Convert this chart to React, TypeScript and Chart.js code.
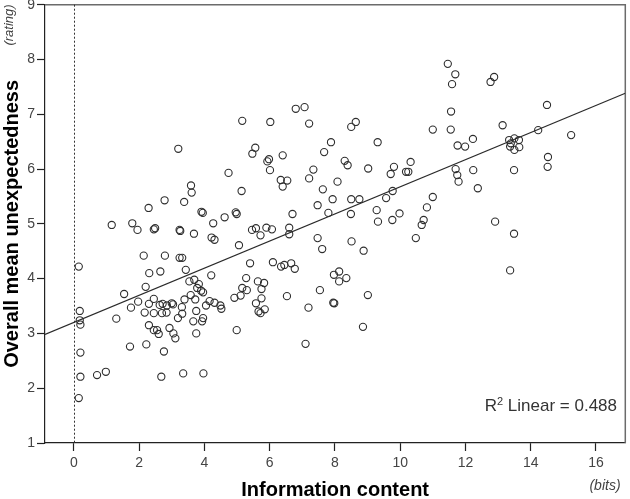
import React, { useEffect, useRef } from "react";
import { Chart, registerables } from "chart.js";

Chart.register(...registerables);

// Information content (bits) of each item
const INFO_BITS = [
  0.15, 0.18, 0.18, 0.2, 0.2, 0.2, 0.15,
  0.71, 0.98, 1.72, 2.22, 2.3, 2.45, 2.55, 2.6, 2.76, 2.68, 2.93, 3.05, 3.11, 3.35, 3.66, 3.75, 3.93, 3.97, 4.99,
  4.74, 3.59, 3.61, 5.14, 2.78, 3.38, 2.29, 3.91, 3.95, 4.96, 4.99, 1.16, 1.79, 1.95, 2.45, 2.49, 3.24, 3.26, 3.68,
  4.27, 4.62, 4.22, 4.31, 5.46, 5.58, 5.06, 2.14, 2.79, 3.24, 3.32, 2.31, 2.65, 3.43, 4.21, 5.4, 2.2, 3.54, 3.69,
  3.83, 3.78, 3.9, 3.96, 1.54, 1.97, 1.75, 2.45, 2.3, 2.63, 2.72, 2.85, 3.0, 3.04, 3.31, 3.39, 3.58, 3.72, 4.05,
  4.16, 4.31, 4.49, 4.52, 4.92, 5.11, 5.16, 5.3, 5.28, 5.58, 5.64, 5.66, 2.17, 2.45, 2.7, 2.84, 3.19, 3.32, 3.75,
  3.96, 1.3,
  3.2, 5.16, 5.56, 5.47,
  6.8, 7.07, 6.02, 7.21, 8.5, 8.64, 11.0, 7.88, 9.31, 6.4, 7.67, 5.93, 5.98, 6.01, 7.34, 7.21, 8.3, 8.39, 9.02,
  9.81, 9.71, 10.32, 10.18, 10.25, 6.34, 6.54, 6.4, 8.08, 7.63, 7.93, 8.5, 8.75, 9.57, 9.77, 11.0, 10.82, 7.47,
  6.7, 7.8, 8.49, 9.28, 9.32, 9.98, 9.76, 10.72, 10.66, 5.9, 6.07, 5.72, 6.6, 6.6,
  7.47, 8.51, 7.61, 8.88, 10.48, 6.1, 6.35, 6.45, 6.66, 6.77, 7.97, 8.13, 8.13, 8.35, 5.83, 5.75, 7.54, 6.53,
  5.75, 5.85, 5.72, 7.19, 7.95, 7.98, 9.01, 8.86, 7.1,
  11.46, 11.69, 11.59, 12.88, 12.77, 11.56, 14.5, 11.55, 13.14, 14.23, 15.24, 11.76, 11.99, 12.23, 13.34, 13.39,
  13.37, 13.5, 13.64, 13.65, 13.5, 14.53, 14.52, 11.7, 11.75, 11.79, 12.24, 13.49, 12.38,
  12.91, 13.49, 13.37,
];

// Overall mean unexpectedness (rating) of each item
const RATING = [
  4.22, 3.41, 3.24, 3.16, 2.65, 2.21, 1.82,
  2.24, 2.3, 2.76, 2.8, 3.15, 3.06, 3.06, 2.99, 2.67, 2.21, 3.1, 3.0, 2.91, 2.27, 3.22, 3.0, 3.22, 2.27, 3.06,
  5.93, 5.7, 5.57, 5.6, 5.43, 5.4, 5.29, 5.22, 5.2, 5.21, 5.18, 4.98, 5.01, 4.89, 4.9, 4.92, 4.89, 4.87, 4.82,
  5.01, 5.12, 4.75, 4.71, 4.89, 4.92, 4.61, 4.42, 4.42, 4.38, 4.38, 4.1, 4.13, 4.16, 4.06, 4.28, 3.85, 3.95, 3.98,
  3.9, 3.83, 3.78, 3.75, 3.72, 3.58, 3.47, 3.63, 3.54, 3.52, 3.54, 3.51, 3.55, 3.53, 3.48, 3.62, 3.7, 3.62, 3.51,
  3.59, 3.56, 3.51, 3.45, 3.65, 3.69, 3.83, 3.79, 4.01, 3.55, 3.95, 3.4, 3.38, 3.37, 3.37, 3.38, 3.28, 3.36, 3.41,
  3.28, 3.27,
  6.37, 6.88, 6.39, 6.28,
  7.1, 7.13, 6.86, 6.83, 6.77, 6.86, 6.72, 6.49, 6.49, 6.25, 6.31, 6.14, 6.18, 5.98, 5.99, 5.83, 6.15, 6.07, 6.01,
  6.04, 5.91, 6.13, 5.95, 5.95, 5.8, 5.79, 5.68, 5.77, 5.63, 5.45, 5.45, 5.45, 5.47, 5.6, 5.49, 5.3, 5.34,
  5.18, 5.2, 5.18, 5.25, 5.04, 5.19, 5.07, 5.07, 4.98, 4.93, 4.9, 4.79, 4.93, 4.81,
  4.74, 4.68, 4.54, 4.51, 4.74, 4.3, 4.22, 4.25, 4.28, 4.18, 4.07, 4.13, 3.95, 4.01, 3.92, 3.81, 3.79, 3.68,
  3.64, 3.44, 3.37, 3.47, 3.56, 3.55, 3.7, 3.12, 2.81,
  7.92, 7.73, 7.55, 7.68, 7.59, 7.05, 7.17, 6.72, 6.8, 6.71, 6.62, 6.43, 6.41, 6.55, 6.53, 6.47,
  6.41, 6.56, 6.53, 6.4, 6.35, 6.22, 6.04, 6.0, 5.89, 5.77, 5.98, 5.98, 5.65,
  5.04, 4.82, 4.15,
];

const X_TICKS = [0, 2, 4, 6, 8, 10, 12, 14, 16];
const Y_TICKS = [1, 2, 3, 4, 5, 6, 7, 8, 9];
const X_MIN = -0.885;
const X_MAX = 16.9;
const Y_MIN = 1;
const Y_MAX = 9;

const FIT_INTERCEPT = 3.2;
const FIT_SLOPE = 0.2475;
const R2_VALUE = "0.488";

const X_TITLE = "Information content";
const X_UNIT = "(bits)";
const Y_TITLE = "Overall mean unexpectedness";
const Y_UNIT = "(rating)";

const FONT = '"Liberation Sans", Arial, Helvetica, sans-serif';

const overlayPlugin = {
  id: "overlay",
  beforeDatasetsDraw(chart: any) {
    const { ctx, chartArea: a, scales } = chart;
    const xs = scales.x;
    const ys = scales.y;
    ctx.save();
    // frame top & right
    ctx.strokeStyle = "#6b6b6b";
    ctx.lineWidth = 1.5;
    ctx.beginPath();
    ctx.moveTo(a.left, a.top);
    ctx.lineTo(a.right, a.top);
    ctx.lineTo(a.right, a.bottom);
    ctx.stroke();

    // dotted reference line at x = 0
    const x0 = Math.round(xs.getPixelForValue(0)) + 0.5;
    ctx.strokeStyle = "#333";
    ctx.lineWidth = 1;
    ctx.setLineDash([2, 2]);
    ctx.beginPath();
    ctx.moveTo(x0, a.top);
    ctx.lineTo(x0, a.bottom);
    ctx.stroke();
    ctx.setLineDash([]);

    // linear fit
    ctx.beginPath();
    ctx.rect(a.left, a.top, a.right - a.left, a.bottom - a.top);
    ctx.clip();
    ctx.strokeStyle = "#2a2a2a";
    ctx.lineWidth = 1.2;
    ctx.beginPath();
    ctx.moveTo(xs.getPixelForValue(X_MIN), ys.getPixelForValue(FIT_INTERCEPT + FIT_SLOPE * X_MIN));
    ctx.lineTo(xs.getPixelForValue(X_MAX), ys.getPixelForValue(FIT_INTERCEPT + FIT_SLOPE * X_MAX));
    ctx.stroke();
    ctx.restore();
  },
  afterDraw(chart: any) {
    const { ctx, chartArea: a } = chart;
    ctx.save();
    // y title
    ctx.fillStyle = "#000";
    ctx.font = `bold 20px ${FONT}`;
    ctx.textAlign = "center";
    ctx.textBaseline = "alphabetic";
    ctx.save();
    ctx.translate(18, (a.top + a.bottom) / 2);
    ctx.rotate(-Math.PI / 2);
    ctx.fillText(Y_TITLE, 0, 0);
    ctx.restore();
    // y unit
    ctx.fillStyle = "#444";
    ctx.font = `italic 13px ${FONT}`;
    ctx.save();
    ctx.translate(12.5, 25);
    ctx.rotate(-Math.PI / 2);
    ctx.fillText(Y_UNIT, 0, 0);
    ctx.restore();
    // x title
    ctx.fillStyle = "#000";
    ctx.font = `bold 20px ${FONT}`;
    ctx.fillText(X_TITLE, (a.left + a.right) / 2, 496);
    // x unit
    ctx.fillStyle = "#444";
    ctx.font = `italic 14px ${FONT}`;
    ctx.fillText(X_UNIT, 605, 490);
    // R² label
    ctx.fillStyle = "#333";
    ctx.textAlign = "left";
    const rest = ` Linear = ${R2_VALUE}`;
    ctx.font = `17px ${FONT}`;
    const wRest = ctx.measureText(rest).width;
    const wR = ctx.measureText("R").width;
    ctx.font = `11px ${FONT}`;
    const w2 = ctx.measureText("2").width;
    const right = 617;
    const base = 411;
    let xPos = right - wRest - w2 - wR;
    ctx.font = `17px ${FONT}`;
    ctx.fillText("R", xPos, base);
    xPos += wR;
    ctx.font = `11px ${FONT}`;
    ctx.fillText("2", xPos, base - 6);
    xPos += w2;
    ctx.font = `17px ${FONT}`;
    ctx.fillText(rest, xPos, base);
    ctx.restore();
  },
};

export default function App() {
  const canvasRef = useRef<HTMLCanvasElement | null>(null);

  useEffect(() => {
    const canvas = canvasRef.current;
    if (!canvas) return;
    const points = INFO_BITS.map((x, i) => ({ x, y: RATING[i] }));
    const chart = new Chart(canvas, {
      type: "scatter",
      data: {
        datasets: [
          {
            data: points,
            pointRadius: 3.6,
            pointBorderWidth: 1.1,
            pointBorderColor: "#2e2e2e",
            pointBackgroundColor: "rgba(0,0,0,0)",
            pointHoverRadius: 3.6,
          },
        ],
      },
      options: {
        responsive: false,
        animation: false,
        devicePixelRatio: 1,
        layout: { padding: { top: 4, right: 2, left: 0, bottom: 0 } },
        plugins: {
          legend: { display: false },
          tooltip: { enabled: false },
        },
        scales: {
          x: {
            type: "linear",
            min: X_MIN,
            max: X_MAX,
            afterBuildTicks: (s: any) => {
              s.ticks = X_TICKS.map((v) => ({ value: v }));
            },
            afterFit: (s: any) => {
              s.height = 56;
              s.paddingLeft = 0;
              s.paddingRight = 0;
            },
            grid: {
              display: true,
              drawOnChartArea: false,
              drawTicks: true,
              tickLength: 8,
              color: "#222",
              tickWidth: 1.2,
            },
            border: { display: true, color: "#222", width: 1.2 },
            ticks: {
              color: "#444",
              padding: 4,
              font: { family: FONT, size: 14 },
              maxRotation: 0,
              autoSkip: false,
            },
          },
          y: {
            type: "linear",
            min: Y_MIN,
            max: Y_MAX,
            afterBuildTicks: (s: any) => {
              s.ticks = Y_TICKS.map((v) => ({ value: v }));
            },
            afterFit: (s: any) => {
              s.width = 45;
              s.paddingTop = 0;
              s.paddingBottom = 0;
            },
            grid: {
              display: true,
              drawOnChartArea: false,
              drawTicks: true,
              tickLength: 8,
              color: "#222",
              tickWidth: 1.2,
            },
            border: { display: true, color: "#222", width: 1.2 },
            ticks: {
              color: "#444",
              padding: 2,
              font: { family: FONT, size: 14 },
              autoSkip: false,
            },
          },
        },
      },
      plugins: [overlayPlugin],
    });
    return () => chart.destroy();
  }, []);

  return (
    <div style={{ position: "absolute", left: 0, top: 0, width: 630, height: 499, background: "#fff" }}>
      <canvas ref={canvasRef} width={630} height={499} style={{ display: "block", width: 630, height: 499 }} />
    </div>
  );
}
